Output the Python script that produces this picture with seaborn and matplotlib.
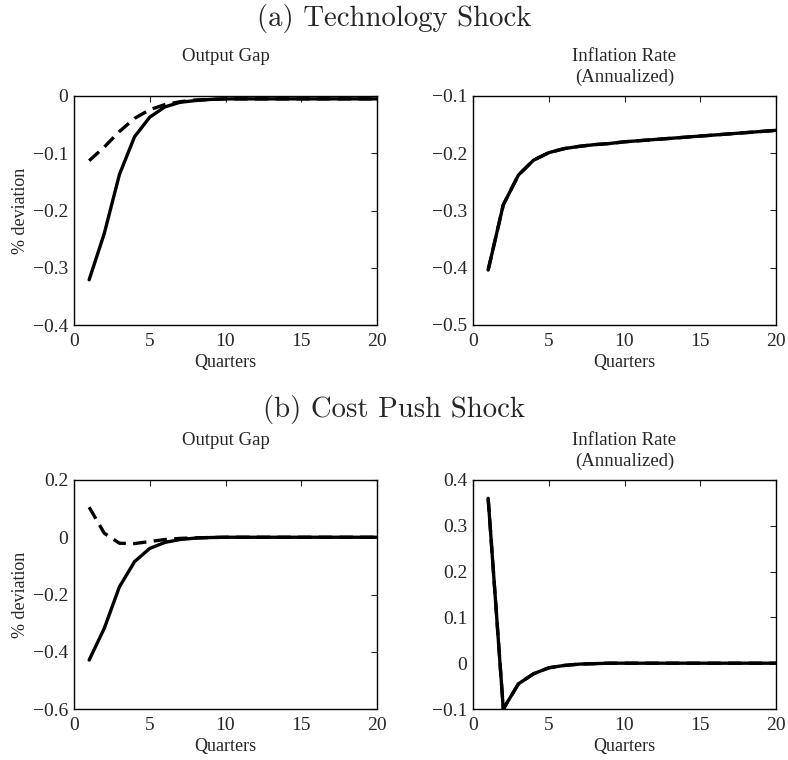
import matplotlib
matplotlib.use("Agg")
import matplotlib.pyplot as plt
import seaborn as sns

# Impulse responses, quarters 1..20
quarters = list(range(1, 21))

# (a) Technology shock
tech_gap_solid = [-0.321, -0.240, -0.137, -0.071, -0.037, -0.019, -0.011, -0.008, -0.006, -0.005,
                  -0.005, -0.005, -0.005, -0.005, -0.005, -0.005, -0.005, -0.005, -0.005, -0.005]
tech_gap_dashed = [-0.113, -0.089, -0.062, -0.039, -0.024, -0.015, -0.010, -0.007, -0.006, -0.005,
                   -0.005, -0.005, -0.005, -0.005, -0.005, -0.005, -0.005, -0.005, -0.005, -0.005]
tech_infl_solid = [-0.404, -0.290, -0.238, -0.212, -0.199, -0.192, -0.188, -0.185, -0.183, -0.180,
                   -0.178, -0.176, -0.174, -0.172, -0.170, -0.168, -0.166, -0.164, -0.162, -0.160]
tech_infl_dashed = list(tech_infl_solid)

# (b) Cost push shock
cost_gap_solid = [-0.429, -0.318, -0.173, -0.085, -0.039, -0.018, -0.008, -0.003, -0.001, 0.0,
                  0.0, 0.0, 0.0, 0.0, 0.0, 0.0, 0.0, 0.0, 0.0, 0.0]
cost_gap_dashed = [0.105, 0.014, -0.021, -0.022, -0.015, -0.008, -0.004, -0.002, -0.001, 0.0,
                   0.0, 0.0, 0.0, 0.0, 0.0, 0.0, 0.0, 0.0, 0.0, 0.0]
cost_infl_solid = [0.360, -0.100, -0.045, -0.023, -0.010, -0.005, -0.002, -0.001, 0.0, 0.0,
                   0.0, 0.0, 0.0, 0.0, 0.0, 0.0, 0.0, 0.0, 0.0, 0.0]
cost_infl_dashed = list(cost_infl_solid)

sns.set_style("white")
plt.rcParams["font.family"] = ["Liberation Serif", "DejaVu Serif"]

fig = plt.figure(figsize=(7.88, 7.6), dpi=100)
W, H = 788, 760


def make_axes(left, top, right, bottom):
    return fig.add_axes([left / W, 1 - bottom / H, (right - left) / W, (bottom - top) / H])


panels = [
    (make_axes(74, 96, 377, 325), tech_gap_solid, tech_gap_dashed, "Output Gap", (-0.4, 0), [-0.4, -0.3, -0.2, -0.1, 0], True),
    (make_axes(473, 96, 776, 325), tech_infl_solid, tech_infl_dashed, "Inflation Rate\n(Annualized)", (-0.5, -0.1), [-0.5, -0.4, -0.3, -0.2, -0.1], False),
    (make_axes(74, 480, 377, 709), cost_gap_solid, cost_gap_dashed, "Output Gap", (-0.6, 0.2), [-0.6, -0.4, -0.2, 0, 0.2], True),
    (make_axes(473, 480, 776, 709), cost_infl_solid, cost_infl_dashed, "Inflation Rate\n(Annualized)", (-0.1, 0.4), [-0.1, 0, 0.1, 0.2, 0.3, 0.4], False),
]

for ax, solid, dashed, title, ylim, yticks, show_ylabel in panels:
    sns.lineplot(x=quarters, y=solid, ax=ax, color="black", lw=2.4)
    sns.lineplot(x=quarters, y=dashed, ax=ax, color="black", lw=2.4, linestyle=(0, (4, 2.2)))
    ax.set_xlim(0, 20)
    ax.set_ylim(*ylim)
    ax.set_xticks([0, 5, 10, 15, 20])
    ax.set_yticks(yticks)
    ax.set_yticklabels([f"{t:g}".replace("-", "\u2212") for t in yticks])
    ax.tick_params(direction="in", top=True, right=True, length=4, width=0.8,
                   labelsize=14, pad=4)
    ax.tick_params(axis="x", pad=6)
    for sp in ax.spines.values():
        sp.set_visible(True)
        sp.set_color("black")
        sp.set_linewidth(1.0)
    ax.set_xlabel("Quarters", fontsize=13)
    ax.xaxis.set_label_coords(0.5, -0.125)
    if show_ylabel:
        ax.set_ylabel("% deviation", fontsize=13)
        ax.yaxis.set_label_coords(-0.15, 0.5)
    ax.text(0.5, 1.21, title, transform=ax.transAxes, ha="center", va="top",
            fontsize=13.5, linespacing=1.25)

fig.text(0.5, 1 - 4 / H, "(a) Technology Shock", ha="center", va="top",
         fontsize=20.7, family="cmr10")
fig.text(0.5, 1 - 395 / H, "(b) Cost Push Shock", ha="center", va="top",
         fontsize=20.7, family="cmr10")

fig.savefig("out.png", dpi=100, facecolor="white")
